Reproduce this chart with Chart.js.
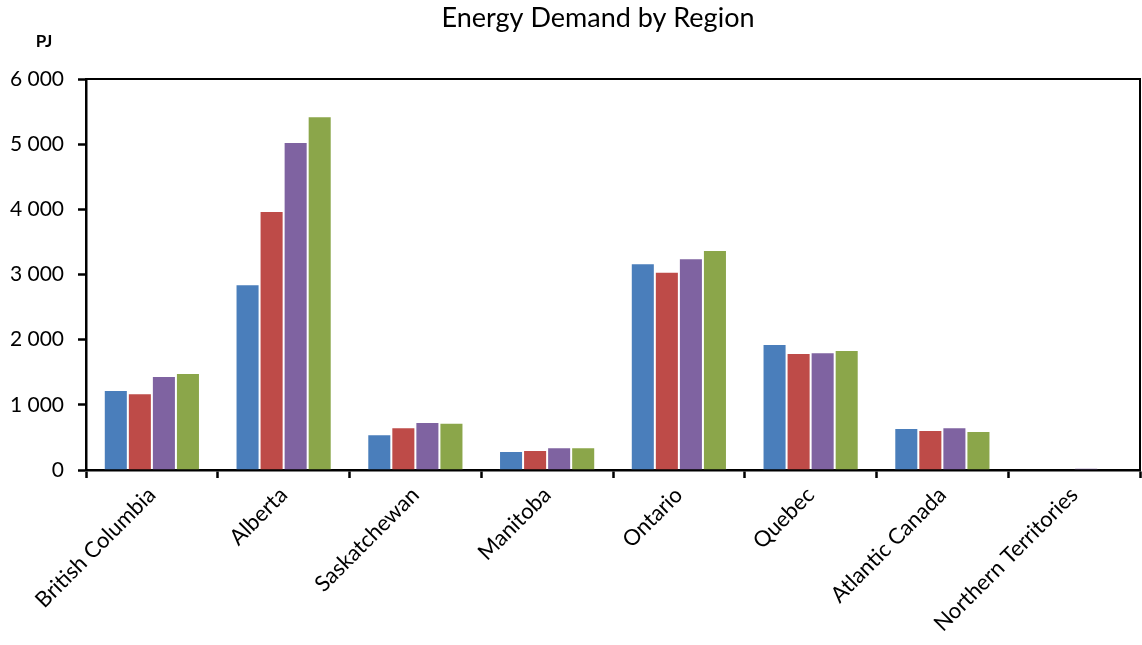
<!DOCTYPE html>
<html>
<head>
<meta charset="utf-8">
<title>Energy Demand by Region</title>
<script src="https://cdn.jsdelivr.net/npm/chart.js@4/dist/chart.umd.min.js"></script>
<style>
  html, body { margin: 0; padding: 0; background: #fff; }
  #wrap { width: 1142px; height: 645px; position: relative; }
</style>
</head>
<body>
<div id="wrap"><canvas id="demandChart"></canvas></div>
<script>
// Energy demand (PJ) per region, four series
const regions = ["British Columbia", "Alberta", "Saskatchewan", "Manitoba",
                 "Ontario", "Quebec", "Atlantic Canada", "Northern Territories"];
const series1 = [1228, 2850, 548, 292, 3172, 1933, 644, 10];
const series2 = [1177, 3974, 655, 307, 3043, 1795, 614, 8];
const series3 = [1442, 5033, 737, 348, 3248, 1806, 655, 32];
const series4 = [1488, 5427, 726, 348, 3376, 1841, 598, 8];
const yTicks = [0, 1000, 2000, 3000, 4000, 5000, 6000];

const seriesColors = ["#4a7ebb", "#be4b48", "#7f63a1", "#8ba64a"];
const FONT = "Lato, 'Open Sans', sans-serif";

function spaced(v) {
    return String(v).replace(/\B(?=(\d{3})+(?!\d))/g, " ");
}

// title, unit label and the box closing the plot on top/right
const frame = {
    id: "frame",
    afterDraw(chart) {
        const ctx = chart.ctx;
        const a = chart.chartArea;
        ctx.save();
        ctx.strokeStyle = "#000";
        ctx.lineWidth = 2;
        ctx.beginPath();
        ctx.moveTo(a.left, a.top);
        ctx.lineTo(a.right, a.top);
        ctx.lineTo(a.right, a.bottom);
        ctx.stroke();

        ctx.fillStyle = "#000";
        ctx.textBaseline = "middle";
        ctx.textAlign = "center";
        ctx.font = "27px " + FONT;
        ctx.fillText("Energy Demand by Region", 598, 18);
        ctx.font = "bold 17px " + FONT;
        ctx.fillText("PJ", 44, 42);
        ctx.restore();
    }
};

const ds = [series1, series2, series3, series4].map((vals, i) => ({
    label: "Series " + (i + 1),
    data: vals,
    backgroundColor: seriesColors[i],
    borderColor: "rgba(255,255,255,0.2)",
    borderWidth: { left: 1, right: 1, top: 1, bottom: 0 },
    barPercentage: 1,
    categoryPercentage: 0.73,
}));

new Chart(document.getElementById("demandChart"), {
    type: "bar",
    data: { labels: regions, datasets: ds },
    options: {
        responsive: true,
        maintainAspectRatio: false,
        animation: false,
        layout: { padding: { top: 79, right: 2, left: 0, bottom: 0 } },
        plugins: {
            legend: { display: false },
            title: { display: false },
            tooltip: { enabled: false },
        },
        scales: {
            x: {
                offset: true,
                grid: {
                    offset: true,
                    drawOnChartArea: false,
                    drawTicks: true,
                    tickLength: 8,
                    tickWidth: 2.5,
                    tickColor: "#000",
                },
                border: { display: true, color: "#000", width: 2.5 },
                ticks: {
                    color: "#000",
                    font: { family: FONT, size: 22 },
                    minRotation: 45,
                    maxRotation: 45,
                    padding: 4,
                    autoSkip: false,
                },
                afterFit(scale) { scale.height = 175; },
            },
            y: {
                min: 0,
                max: 6000,
                afterBuildTicks(scale) { scale.ticks = yTicks.map(v => ({ value: v })); },
                grid: {
                    drawOnChartArea: false,
                    drawTicks: true,
                    tickLength: 8,
                    tickWidth: 2.5,
                    tickColor: "#000",
                },
                border: { display: true, color: "#000", width: 2.5 },
                ticks: {
                    color: "#000",
                    font: { family: FONT, size: 21 },
                    padding: 14,
                    callback: v => spaced(v),
                },
                afterFit(scale) { scale.width = 86; },
            },
        },
    },
    plugins: [frame],
});
</script>
</body>
</html>
